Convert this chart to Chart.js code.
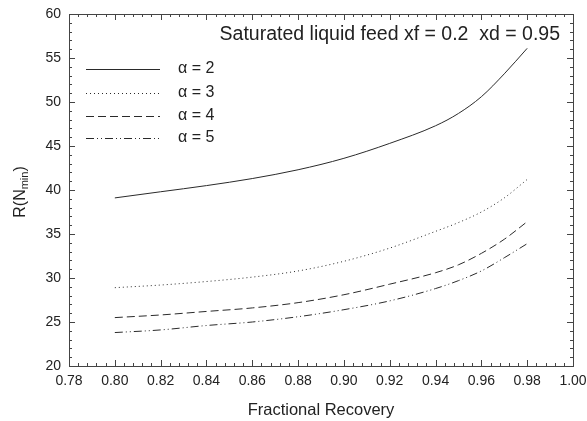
<!DOCTYPE html>
<html>
<head>
<meta charset="utf-8">
<script src="https://cdn.jsdelivr.net/npm/chart.js@4.4.1/dist/chart.umd.min.js"></script>
<style>
html,body{margin:0;padding:0;background:#fff;}
#wrap{width:587px;height:421px;position:relative;}
</style>
</head>
<body>
<div id="wrap"><canvas id="c" width="587" height="421"></canvas></div>
<script>
// ---- data ----
const recovery = [0.80, 0.82, 0.84, 0.86, 0.88, 0.90, 0.92, 0.94, 0.95, 0.96, 0.97, 0.98];
const alpha2 = [39.1, 39.8, 40.5, 41.3, 42.3, 43.6, 45.3, 47.3, 48.7, 50.6, 53.2, 56.1];
const alpha3 = [28.9, 29.2, 29.6, 30.1, 30.8, 31.9, 33.4, 35.3, 36.3, 37.5, 39.1, 41.2];
const alpha4 = [25.5, 25.8, 26.2, 26.6, 27.2, 28.1, 29.3, 30.6, 31.5, 32.8, 34.4, 36.4];
const alpha5 = [23.8, 24.1, 24.6, 25.0, 25.6, 26.4, 27.4, 28.8, 29.7, 30.8, 32.3, 33.9];
const seriesLabels = ['\u03B1 = 2', '\u03B1 = 3', '\u03B1 = 4', '\u03B1 = 5'];
const xTicks = [0.78, 0.80, 0.82, 0.84, 0.86, 0.88, 0.90, 0.92, 0.94, 0.96, 0.98, 1.00];
const yTicks = [20, 25, 30, 35, 40, 45, 50, 55, 60];
const titleText = 'Saturated liquid feed xf = 0.2  xd = 0.95';
const xTitle = 'Fractional Recovery';

const seriesValues = [alpha2, alpha3, alpha4, alpha5];
const dashes = [[], [1, 3], [8, 4], [8, 3, 1, 3, 1, 3]];
const lineColor = '#2a2a2a';

const datasets = seriesValues.map((vals, i) => ({
  label: seriesLabels[i],
  data: recovery.map((x, j) => ({x: x, y: vals[j]})),
  borderColor: lineColor,
  borderWidth: 1,
  borderDash: dashes[i],
  pointRadius: 0,
  fill: false,
  cubicInterpolationMode: 'monotone'
}));

const FONT = '"Liberation Sans", Arial, sans-serif';

const decor = {
  id: 'decor',
  afterDraw(chart) {
    const ctx = chart.ctx;
    const a = chart.chartArea;
    const xs = chart.scales.x, ys = chart.scales.y;
    ctx.save();
    // frame
    ctx.strokeStyle = '#444';
    ctx.lineWidth = 1;
    ctx.strokeRect(Math.round(a.left) + 0.5, Math.round(a.top) + 0.5, Math.round(a.right - a.left), Math.round(a.bottom - a.top));
    // x ticks (major every 0.02, minor every 0.004)
    ctx.beginPath();
    for (let k = 0; k <= 55; k++) {
      const v = 0.78 + k * 0.004;
      const px = Math.round(xs.getPixelForValue(v)) + 0.5;
      const len = (k % 5 === 0) ? 6 : 3;
      ctx.moveTo(px, a.bottom); ctx.lineTo(px, a.bottom - len);
      ctx.moveTo(px, a.top); ctx.lineTo(px, a.top + len);
    }
    // y ticks (major every 5, minor every 1)
    for (let v = 20; v <= 60; v++) {
      const py = Math.round(ys.getPixelForValue(v)) + 0.5;
      const len = (v % 5 === 0) ? 6 : 3;
      ctx.moveTo(a.left, py); ctx.lineTo(a.left + len, py);
      ctx.moveTo(a.right, py); ctx.lineTo(a.right - len, py);
    }
    ctx.stroke();
    // tick labels
    ctx.fillStyle = '#222';
    ctx.font = '14px ' + FONT;
    ctx.textAlign = 'center';
    ctx.textBaseline = 'middle';
    xTicks.forEach(v => {
      ctx.fillText(v.toFixed(2), xs.getPixelForValue(v), a.bottom + 15);
    });
    ctx.textAlign = 'right';
    yTicks.forEach(v => {
      ctx.fillText(String(v), a.left - 8, ys.getPixelForValue(v));
    });
    // x title
    ctx.textAlign = 'center';
    ctx.font = '16.5px ' + FONT;
    ctx.fillText(xTitle, 321, 410);
    // y title with subscript
    ctx.save();
    ctx.translate(19, 192);
    ctx.rotate(-Math.PI / 2);
    ctx.textAlign = 'left';
    ctx.textBaseline = 'alphabetic';
    const f1 = '16px ' + FONT, f2 = '11px ' + FONT;
    ctx.font = f1; const w1 = ctx.measureText('R(N').width;
    ctx.font = f2; const w2 = ctx.measureText('min').width;
    ctx.font = f1; const w3 = ctx.measureText(')').width;
    const tot = w1 + w2 + w3;
    let x0 = -tot / 2;
    ctx.font = f1; ctx.fillText('R(N', x0, 6);
    ctx.font = f2; ctx.fillText('min', x0 + w1, 9);
    ctx.font = f1; ctx.fillText(')', x0 + w1 + w2, 6);
    ctx.restore();
    // annotation
    ctx.font = '19.5px ' + FONT;
    ctx.textAlign = 'right';
    ctx.textBaseline = 'middle';
    ctx.fillText(titleText, 560, 35);
    // legend
    const ly = [69, 93, 116, 138];
    chart.data.datasets.forEach((ds, i) => {
      ctx.beginPath();
      ctx.strokeStyle = lineColor;
      ctx.lineWidth = 1;
      ctx.setLineDash(ds.borderDash);
      ctx.moveTo(86, ly[i] + 0.5); ctx.lineTo(160, ly[i] + 0.5);
      ctx.stroke();
      ctx.setLineDash([]);
      ctx.font = '16px ' + FONT;
      ctx.textAlign = 'left';
      ctx.fillStyle = '#222';
      ctx.fillText(ds.label, 178, ly[i]);
    });
    ctx.restore();
  }
};

new Chart(document.getElementById('c'), {
  type: 'line',
  data: { datasets: datasets },
  options: {
    responsive: false,
    animation: false,
    devicePixelRatio: 1,
    layout: { padding: { left: 69, top: 14, right: 14, bottom: 55 } },
    plugins: { legend: { display: false }, tooltip: { enabled: false }, title: { display: false } },
    scales: {
      x: { type: 'linear', min: 0.78, max: 1.00, display: false },
      y: { type: 'linear', min: 20, max: 60, display: false }
    }
  },
  plugins: [decor]
});
</script>
</body>
</html>
